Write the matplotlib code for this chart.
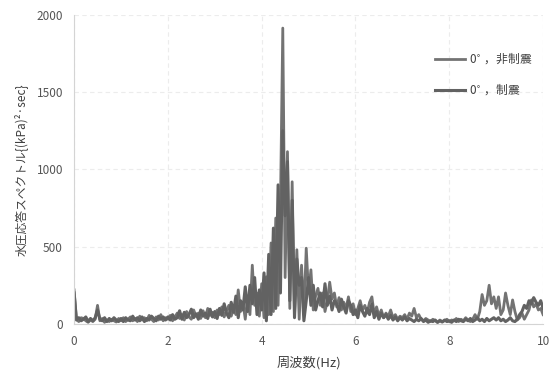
import numpy as np
import matplotlib.pyplot as plt

plt.rcParams['font.family'] = ['Noto Sans CJK JP', 'DejaVu Sans']

# frequency grid (Hz), 0.05 step
freq = np.arange(201) * 0.05

# 0°, 非制震
psd_free = [
    220, 30, 15, 40, 35, 20, 10, 25, 15, 30, 120, 20, 35, 10, 25, 15, 30, 20, 12, 35,
    20, 40, 15, 30, 45, 20, 35, 15, 50, 25, 40, 20, 55, 30, 15, 45, 25, 60, 20, 40,
    30, 55, 20, 45, 70, 35, 60, 25, 80, 45, 30, 90, 50, 70, 35, 85, 40, 100, 55, 75,
    40, 90, 60, 110, 45, 85, 120, 50, 95, 60, 220, 80, 140, 30, 170, 60, 380, 120, 200, 50,
    260, 40, 305, 60, 524, 80, 685, 120, 760, 1915, 300, 1115, 100, 920, 60, 480, 30, 380, 60, 490,
    200, 350, 90, 180, 230, 120, 200, 80, 150, 270, 160, 200, 110, 170, 90, 140, 100, 175, 80, 130,
    60, 100, 150, 90, 120, 70, 140, 175, 60, 110, 50, 90, 40, 70, 50, 90, 40, 60, 30, 50,
    40, 60, 30, 70, 50, 100, 40, 60, 30, 20, 35, 25, 15, 30, 20, 10, 25, 15, 20, 30,
    15, 25, 20, 35, 15, 30, 20, 40, 25, 15, 30, 60, 30, 80, 190, 120, 150, 250, 130, 175,
    100, 175, 60, 90, 200, 120, 60, 155, 80, 25, 40, 70, 30, 60, 90, 155, 110, 130, 90, 100,
    60,
]

# 0°, 制震
psd_damped = [
    200, 25, 40, 20, 30, 45, 15, 35, 20, 40, 90, 30, 20, 40, 15, 35, 20, 40, 25, 15,
    35, 15, 40, 25, 20, 50, 25, 40, 20, 45, 15, 35, 25, 50, 35, 20, 50, 30, 45, 25,
    45, 25, 60, 30, 40, 85, 30, 75, 40, 60, 95, 40, 65, 30, 90, 50, 70, 35, 95, 45,
    80, 35, 100, 55, 130, 70, 40, 140, 75, 180, 40, 150, 90, 240, 80, 250, 130, 300, 60, 220,
    90, 330, 20, 450, 60, 620, 100, 900, 200, 1250, 700, 1050, 150, 800, 40, 420, 250, 300, 20, 150,
    300, 120, 250, 90, 150, 200, 110, 260, 120, 180, 90, 150, 130, 80, 160, 110, 70, 150, 120, 60,
    90, 40, 120, 80, 50, 100, 60, 130, 40, 80, 30, 70, 40, 60, 30, 55, 25, 45, 20, 40,
    25, 45, 20, 35, 25, 15, 30, 20, 35, 15, 25, 10, 20, 15, 25, 10, 20, 12, 25, 15,
    20, 10, 25, 15, 30, 20, 15, 30, 20, 35, 15, 25, 40, 20, 30, 15, 35, 20, 30, 40,
    25, 40, 20, 30, 15, 25, 40, 20, 15, 30, 60, 80, 120, 100, 150, 130, 170, 140, 120, 150,
    100,
]

fig = plt.figure(figsize=(5.57, 3.74), dpi=100)
ax = fig.add_axes([0.133, 0.134, 0.842, 0.826])

ax.plot(freq, psd_free, color='#737373', lw=2.0, label='0$^{\\circ}$ ，非制震')
ax.plot(freq, psd_damped, color='#626262', lw=2.2, label='0$^{\\circ}$ ，制震')

ax.set_xlim(0, 10)
ax.set_ylim(0, 2000)
ax.set_xticks([0, 2, 4, 6, 8, 10])
ax.set_yticks([0, 500, 1000, 1500, 2000])
ax.grid(True, color='#ececec', lw=0.8, ls=(0, (4, 3)))
ax.set_axisbelow(True)

for s in ['top', 'right']:
    ax.spines[s].set_visible(False)
for s in ['left', 'bottom']:
    ax.spines[s].set_color('#d4d4d4')
ax.tick_params(length=0, labelsize=8.5, labelcolor='#555555', pad=8)

ax.set_xlabel('周波数(Hz)', fontsize=9.5, color='#404040', labelpad=6)
ax.set_ylabel('水圧応答スペクトル{(kPa)²·sec}', fontsize=8.5, color='#404040', labelpad=6)

leg = ax.legend(loc='upper right', bbox_to_anchor=(1.0, 0.92), frameon=False,
                fontsize=8.5, handlelength=2.6, labelspacing=1.3, handletextpad=0.3)
for t in leg.get_texts():
    t.set_color('#404040')

plt.savefig('out.png', dpi=100)
